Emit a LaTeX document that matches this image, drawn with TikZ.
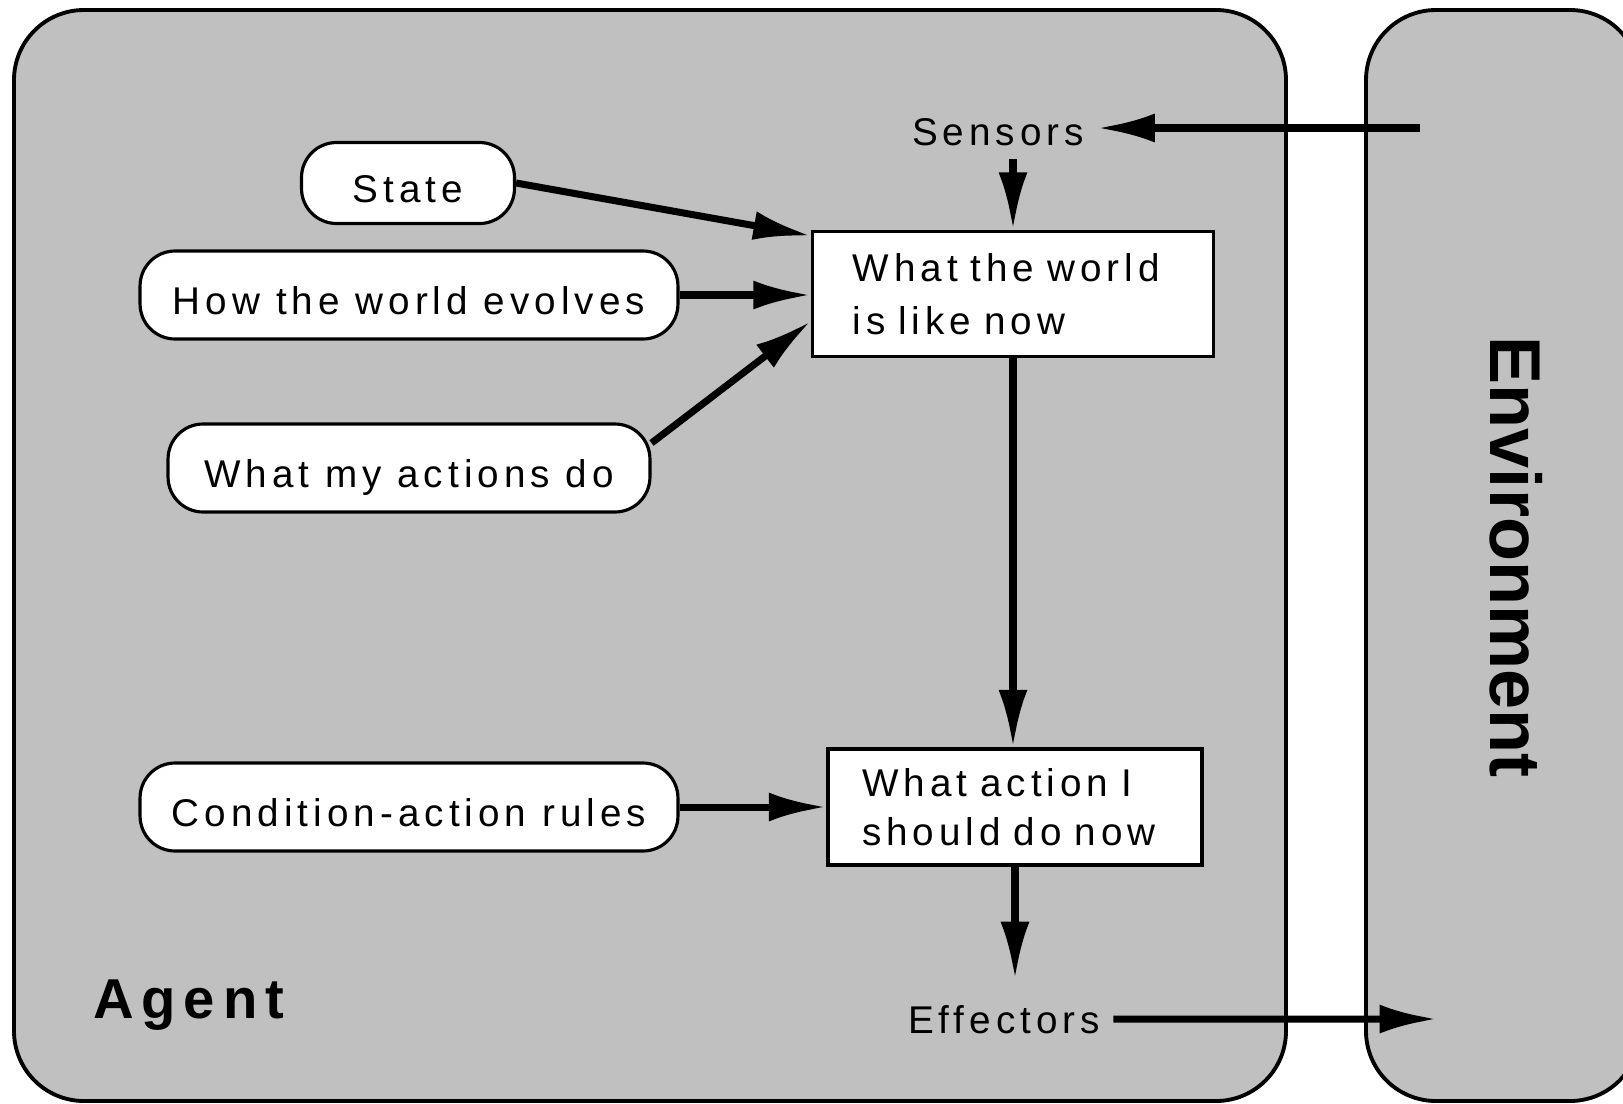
\documentclass[tikz,border=0pt]{standalone}
\usepackage{fontspec}
\setmainfont{Liberation Sans}
\newfontfamily\labelfont[LetterSpace=13]{Liberation Sans}
\newfontfamily\titlefont[LetterSpace=14]{Liberation Sans}
\usetikzlibrary{arrows.meta,calc}
\definecolor{panelgray}{RGB}{192,192,192}
\tikzset{
  agent chart/.style={
    x=0.02cm, y=-0.02cm,
    panel/.style={draw=black, fill=panelgray, line width=2.2pt, rounded corners=1.4cm},
    oval/.style={draw=black, fill=white, line width=1.8pt, rounded corners=0.7cm,
      minimum height=1.76cm, inner sep=0pt, text height=26pt, text depth=3.4pt,
      font={\labelfont\fontsize{22}{26}\selectfont}},
    model box/.style={draw=black, fill=white, line width=2pt, align=left,
      inner ysep=0pt, font={\labelfont\fontsize{22}{30}\selectfont}},
    port label/.style={inner sep=0.26cm, font={\labelfont\fontsize{22}{26}\selectfont}},
    flow/.style={line width=4pt, -{Latex[length=1.15cm,width=0.58cm]}},
  }
}
\begin{document}
\begin{tikzpicture}[agent chart]
    \useasboundingbox (0,0) rectangle (1623,1103);
    % agent and environment panels
    \draw[panel] (14,10) rectangle (1286,1101);
    \draw[panel] (1366,10) rectangle (1640,1101);
    \node[anchor=base west, inner sep=0pt, font={\titlefont\bfseries\fontsize{32}{36}\selectfont}]
        (agent) at (93,1018) {Agent};
    \node[anchor=base, rotate=-90, inner sep=0pt, font={\bfseries\fontsize{41}{46}\selectfont}]
        (environment) at (1490,557) {Environment};

    % knowledge of the agent
    \node[oval, minimum width=4.26cm, minimum height=1.62cm] (state) at (408,183) {State};
    \node[oval, minimum width=10.76cm] (evolves) at (409,295) {How the world evolves};
    \node[oval, minimum width=9.64cm] (actions) at (409,468) {What my actions do};
    \node[oval, minimum width=10.76cm] (rules) at (409,807) {Condition-action rules};

    \node[model box, text width=6.42cm, inner xsep=0.8cm, minimum height=2.5cm]
        (world) at (1013,294) {What the world\\is like now};
    \node[model box, text width=6.12cm, inner xsep=0.68cm, minimum height=2.32cm,
        font={\labelfont\fontsize{22}{28}\selectfont}]
        (action) at (1015,807) {What action I\\should do now};

    \node[port label, anchor=base] (sensors) at (998,145) {Sensors};
    \node[port label, anchor=base] (effectors) at (1004,1033) {Effectors};
    \coordinate (percept) at (1420,128);
    \coordinate (act) at (1437,1019);

    % connections
    \draw[flow] (percept) -- (percept -| sensors.east);
    \draw[flow] (world.north |- sensors.south) -- (world.north);
    \draw[flow] (state.east) -- ([yshift=-0.12cm]world.north west);
    \draw[flow] (evolves.east) -- (evolves.east -| world.west);
    \draw[flow] ([yshift=0.5cm]actions.east) -- ([yshift=0.74cm]world.south west);
    \draw[flow] (world.south) -- (world.south |- action.north);
    \draw[flow] (rules.east) -- (rules.east -| action.west);
    \draw[flow] (action.south) -- ([yshift=0.25cm]action.south |- effectors.north);
    \draw[flow] (effectors.east) -- (act);
\end{tikzpicture}
\end{document}
